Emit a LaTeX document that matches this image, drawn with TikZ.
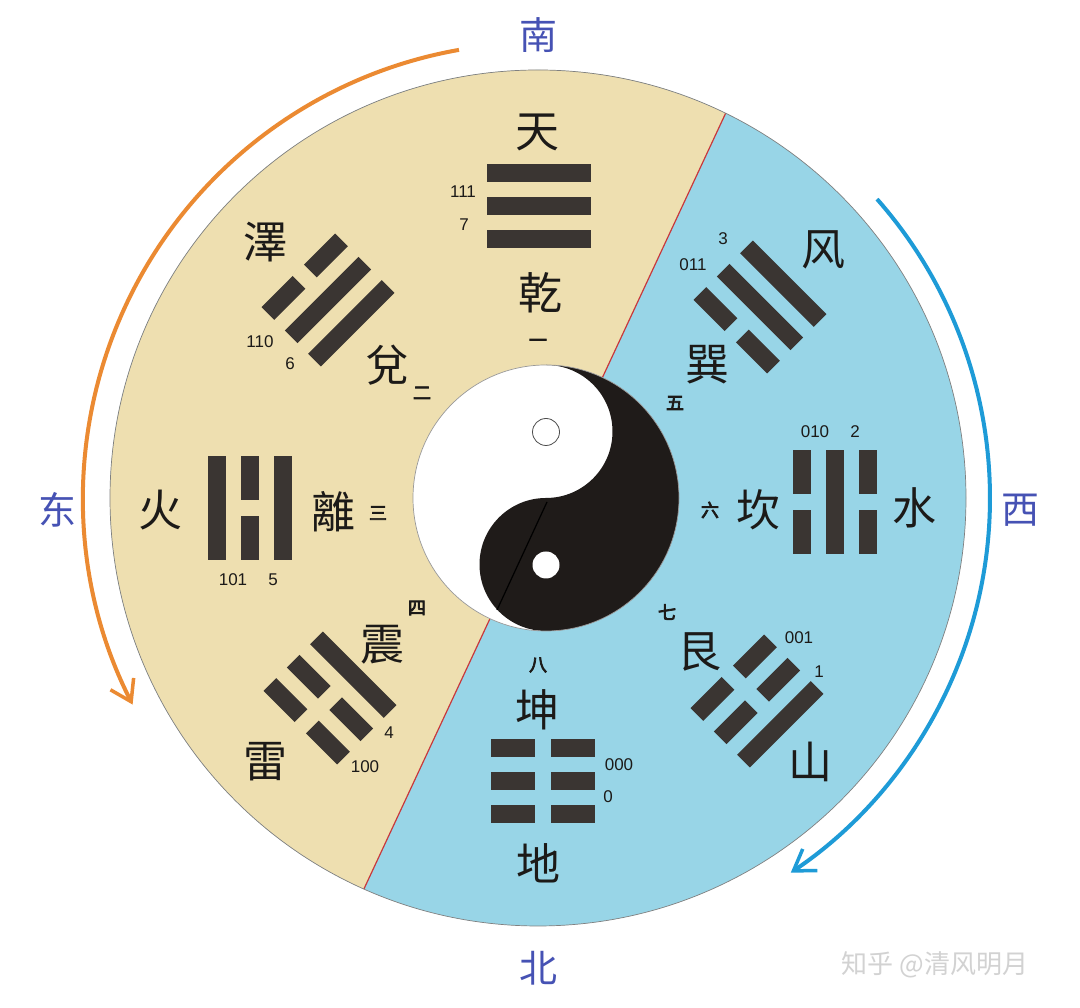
\documentclass[tikz,border=0pt]{standalone}
\usepackage{fontspec}
\usetikzlibrary{arrows.meta,calc}
\newfontfamily\cjk[AutoFakeBold=4]{Noto Sans CJK SC}
\newfontfamily\numf{Liberation Sans}
\definecolor{beige}{HTML}{EEDFB0}
\definecolor{skyb}{HTML}{98D5E7}
\definecolor{barc}{HTML}{3A3532}
\definecolor{txt}{HTML}{1C1A18}
\definecolor{dirc}{HTML}{4652B4}
\definecolor{orangea}{HTML}{EB8A32}
\definecolor{bluea}{HTML}{1E9BD7}
\definecolor{redl}{HTML}{C8383C}
\definecolor{yinc}{HTML}{1F1B19}
\newcommand\yao[2]{\ifnum#2=1 \fill[bar] (-52,{#1-9}) rectangle (52,{#1+9});\else\fill[bar] (-52,{#1-9}) rectangle (-8,{#1+9});\fill[bar] (8,{#1-9}) rectangle (52,{#1+9});\fi}
\newcommand\trigram[6]{\begin{scope}[shift={(#1,#2)},rotate=#3]\yao{-33}{#4}\yao{0}{#5}\yao{33}{#6}\end{scope}}
\tikzset{
  bar/.style={fill=barc},
  bigc/.style={font=\cjk\fontsize{44}{44}\selectfont, text=txt, inner sep=0pt},
  dirlabel/.style={font=\cjk\fontsize{38}{38}\selectfont, text=dirc, inner sep=0pt},
  numl/.style={font=\numf\fontsize{17}{17}\selectfont, text=txt, inner sep=0pt},
  ordl/.style={font=\cjk\bfseries\fontsize{18}{18}\selectfont, text=txt, inner sep=0pt},
  arrowarc/.style={line width=4pt, -{Straight Barb[length=20pt,width=26pt,line width=3.5pt]}},
}
\begin{document}
\begin{tikzpicture}[x=1pt,y=1pt]
\fill[white] (0,0) rectangle (1080,1008);
\useasboundingbox (0,0) rectangle (1080,1008);
\coordinate (C) at (538,510);
% main disc
\fill[skyb] (C) circle (428);
\fill[beige] ($(C)+(64:428)$) arc[start angle=64,end angle=246,radius=428] -- cycle;
\draw[redl, line width=1.2pt] ($(C)+(64:428)$) -- ($(C)+(246:428)$);
\draw[gray, line width=0.7pt] (C) circle (428);
% direction arrows
\draw[orangea, arrowarc] ($(C)+(100:455)$) arc[start angle=100,end angle=207,radius=455];
\draw[bluea, arrowarc] ($(C)+(41.4:452)$) arc[start angle=41.4,end angle=-56,radius=452];
% yin-yang
\coordinate (Y) at (546,510);
\fill[white] (Y) circle (133);
\fill[yinc] (546,643) arc[start angle=90,end angle=-90,radius=133]
  arc[start angle=270,end angle=90,radius=66.5]
  arc[start angle=-90,end angle=90,radius=66.5] -- cycle;
\draw[black, line width=1.2pt] (547,506) -- (497,398);
\draw[gray!80, line width=0.7pt] (Y) circle (133);
\fill[white] (546,576) circle (13.5);
\draw[gray!60!black, line width=0.8pt] (546,576) circle (13.5);
\fill[white] (546,443) circle (13.5);
% trigrams: x, y, rotation, bottom, middle, top
\trigram{539}{802}{0}{1}{1}{1}
\trigram{328}{708}{45}{1}{1}{0}
\trigram{250}{500}{90}{1}{0}{1}
\trigram{330}{310}{135}{1}{0}{0}
\trigram{543}{227}{180}{0}{0}{0}
\trigram{757}{307}{225}{0}{0}{1}
\trigram{834.5}{506}{270}{0}{1}{0}
\trigram{760}{701}{315}{0}{1}{1}
% directions
\node[dirlabel] (south) at (538,973) {南};
\node[dirlabel] (east) at (57,498) {东};
\node[dirlabel] (west) at (1020,498) {西};
\node[dirlabel] (north) at (538,40) {北};
% qian
\node[bigc] (tian) at (537,876) {天};
\node[bigc] (qian) at (540,715) {乾};
\node[ordl] (o1) at (538,665) {一};
\node[numl] (b7) at (463,816) {111};
\node[numl] (d7) at (464,783) {7};
% dui
\node[bigc] (ze) at (265,766) {澤};
\node[bigc] (dui) at (387,643) {兌};
\node[ordl] (o2) at (422,615) {二};
\node[numl] (b6) at (260,666) {110};
\node[numl] (d6) at (290,644) {6};
% xun
\node[bigc] (feng) at (823,758) {风};
\node[bigc] (xun) at (707,643) {巽};
\node[ordl] (o5) at (675,605) {五};
\node[numl] (b3) at (693,743) {011};
\node[numl] (d3) at (723,769) {3};
% li
\node[bigc] (huo) at (160,498) {火};
\node[bigc] (li) at (333,496) {離};
\node[ordl] (o3) at (378,495) {三};
\node[numl] (b5) at (233,428) {101};
\node[numl] (d5) at (273,428) {5};
% kan
\node[ordl] (o6) at (710,498) {六};
\node[bigc] (kan) at (758,498) {坎};
\node[bigc] (shui) at (914,500) {水};
\node[numl] (b2) at (815,576) {010};
\node[numl] (d2) at (855,576) {2};
% zhen
\node[ordl] (o4) at (417,400) {四};
\node[bigc] (zhen) at (382,363) {震};
\node[bigc] (lei) at (265,246) {雷};
\node[numl] (d4) at (389,275) {4};
\node[numl] (b4) at (365,241) {100};
% gen
\node[ordl] (o7) at (667,396) {七};
\node[bigc] (gen) at (699,356) {艮};
\node[numl] (b1) at (799,370) {001};
\node[numl] (d1) at (819,336) {1};
\node[bigc] (shan) at (810,246) {山};
% kun
\node[ordl] (o8) at (538,343) {八};
\node[bigc] (kun) at (537,298) {坤};
\node[bigc] (di) at (538,145) {地};
\node[numl] (b0) at (619,243) {000};
\node[numl] (d0) at (608,211) {0};
% watermark
\node[font=\cjk\fontsize{26}{26}\selectfont, text=gray!35, inner sep=0pt] (wm) at (935,43) {知乎 @清风明月};
\end{tikzpicture}
\end{document}
